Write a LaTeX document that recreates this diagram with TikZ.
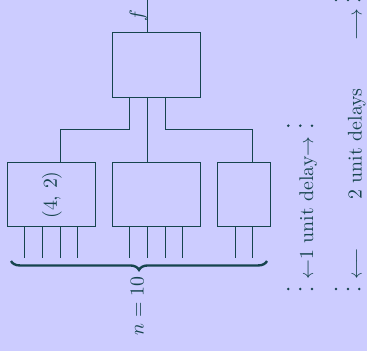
\documentclass[tikz,border=0pt]{standalone}
\usetikzlibrary{decorations.pathreplacing}
\definecolor{bg}{RGB}{204,204,255}
\definecolor{ink}{RGB}{22,68,78}
\def\u{0.505pt}
\begin{document}
\begin{tikzpicture}[x=0.505pt,y=-0.505pt,
  box/.style={draw=ink, line width=0.5pt, inner sep=0pt, outer sep=0pt,
    minimum height=64*\u},
  wire/.style={draw=ink, line width=0.5pt},
  lbl/.style={text=ink, rotate=90, inner sep=0pt},
  dotmark/.style={circle, fill=ink, inner sep=0pt, minimum size=1.4pt},
  bracestyle/.style={draw=ink, line width=1.2pt,
    decorate, decoration={brace, mirror, amplitude=4.5pt}}]
  % canvas
  \fill[bg] (0,0) rectangle (367,351);
  \useasboundingbox (0,0) rectangle (367,351);

  % blocks of the tree
  \node[box, minimum width=88*\u] (top) at (156.3,65) {};
  \node[box, minimum width=88*\u] (L) at (51.3,194.5) {};
  \node[box, minimum width=88*\u] (M) at (156.3,194.5) {};
  \node[box, minimum width=52.8*\u] (R) at (244,194.5) {};
  \node[lbl] (lab) at (52,195) {(4, 2)};

  % output
  \coordinate (out) at (147.5,0);
  \draw[wire] (top.north -| out) -- (out);
  \node[lbl] (fout) at (138.5,16) {$f$};

  % wiring between the levels
  \coordinate (ja) at (129.9,129.5);
  \coordinate (jm) at (147.5,129.5);
  \coordinate (jb) at (165.1,129.5);
  \coordinate (hl) at (60.1,129.5);
  \coordinate (hr) at (252.8,129.5);
  \draw[wire] (top.south -| ja) -- (ja) -- (hl) -- (L.north -| hl);
  \draw[wire] (top.south -| jm) -- (M.north -| jm);
  \draw[wire] (top.south -| jb) -- (jb) -- (hr) -- (R.north -| hr);

  % inputs
  \foreach \dx in {-26.4,-8.8,8.8,26.4} {
    \draw[wire] (L.south) ++(\dx,0) -- ++(0,31);
    \draw[wire] (M.south) ++(\dx,0) -- ++(0,31);
  }
  \foreach \dx in {-8.8,8.8}
    \draw[wire] (R.south) ++(\dx,0) -- ++(0,31);

  % brace and count
  \coordinate (bl) at (11,261);
  \coordinate (br) at (267,261);
  \draw[bracestyle] (bl) -- (br);
  \node[lbl, anchor=base] (cnt) at (143.5,306) {$n=10$};

  % delay marks
  \foreach \x [count=\i] in {288.3,300.3,312} {
    \node[dotmark] (a\i) at (\x,125.7) {};
    \node[dotmark] (b\i) at (\x,289) {};
  }
  \foreach \x [count=\i] in {336,348,359.3} {
    \node[dotmark] (c\i) at (\x,289) {};
    \node[dotmark] (e\i) at (\x,0) {};
  }
  \node[lbl, anchor=base] (one) at (313,208) {$\leftarrow$1 unit delay$\rightarrow$};
  \node[lbl, anchor=base] (two) at (361.5,144) {2 unit delays};
  \node[lbl, anchor=base] (twol) at (361.5,264) {$\longleftarrow$};
  \node[lbl, anchor=base] (twor) at (361.5,25) {$\longrightarrow$};
\end{tikzpicture}
\end{document}
